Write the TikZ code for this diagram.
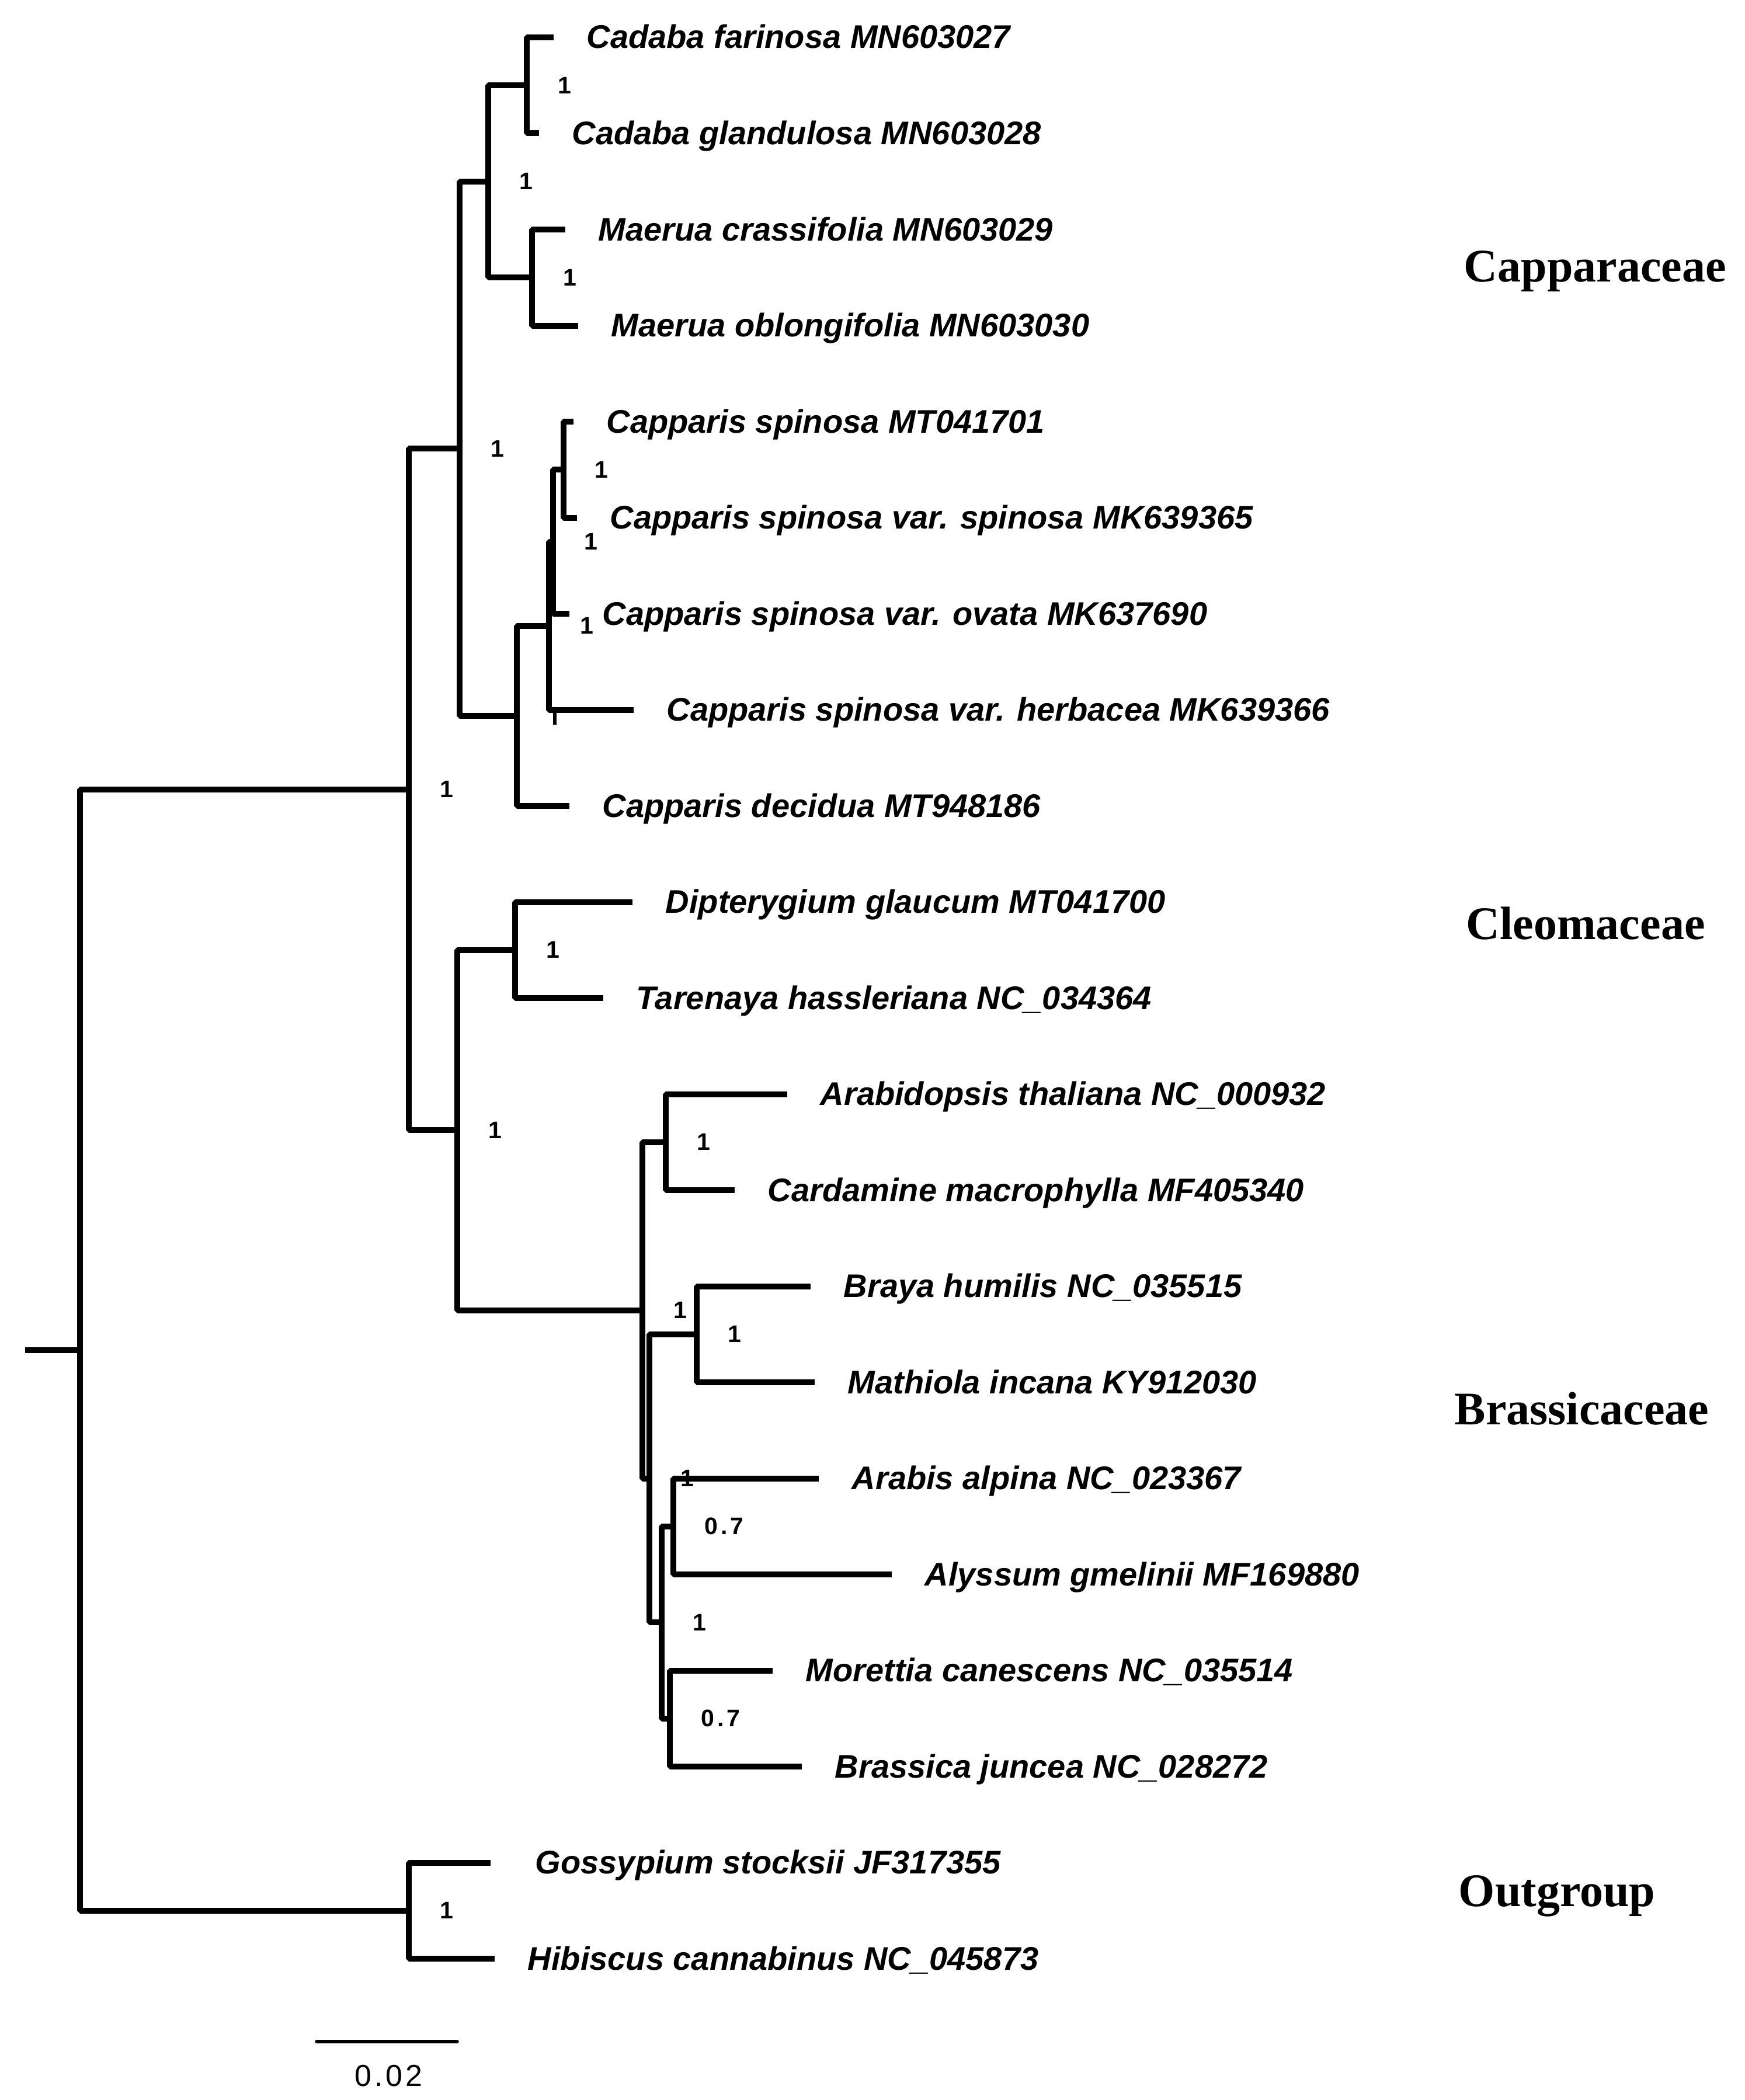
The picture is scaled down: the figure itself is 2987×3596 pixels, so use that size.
\documentclass[tikz,border=0pt]{standalone}
\usepackage{fontspec}
\setmainfont{Liberation Serif}
\newfontfamily\leaffont{Liberation Sans}
\usepackage{tikz}
\usetikzlibrary{calc}

\tikzset{
  branch/.style={line width=2.5pt, line join=bevel},
  leaf/.style={anchor=base west, inner sep=0pt, font=\leaffont\bfseries\itshape\fontsize{14}{14}\selectfont},
  supp/.style={anchor=west, inner sep=0pt, font=\leaffont\bfseries\fontsize{10.25}{10}\selectfont},
  family/.style={anchor=base west, inner sep=0pt, font=\bfseries\fontsize{20}{20}\selectfont},
}

\begin{document}
\begin{tikzpicture}[x=0.25pt, y=-0.25pt]
  \useasboundingbox (0,0) rectangle (2987,3596);

  % leaves: index / tip x / gap to text / name
  \foreach \i/\tx/\gap/\name in {
      1/948/56/{Cadaba farinosa MN603027},
      2/923/56/{Cadaba glandulosa MN603028},
      3/968/56/{Maerua crassifolia MN603029},
      4/990/56/{Maerua oblongifolia MN603030},
      5/982/56/{Capparis spinosa MT041701},
      6/988/56/{Capparis spinosa var. spinosa MK639365},
      7/975/56/{Capparis spinosa var. ovata MK637690},
      8/1085/56/{Capparis spinosa var. herbacea MK639366},
      9/975/56/{Capparis decidua MT948186},
      10/1083/56/{Dipterygium glaucum MT041700},
      11/1033/56/{Tarenaya hassleriana NC\_034364},
      12/1348/56/{Arabidopsis thaliana NC\_000932},
      13/1258/56/{Cardamine macrophylla MF405340},
      14/1388/56/{Braya humilis NC\_035515},
      15/1395/56/{Mathiola incana KY912030},
      16/1402/56/{Arabis alpina NC\_023367},
      17/1527/56/{Alyssum gmelinii MF169880},
      18/1323/56/{Morettia canescens NC\_035514},
      19/1373/56/{Brassica juncea NC\_028272},
      20/840/76/{Gossypium stocksii JF317355},
      21/847/56/{Hibiscus cannabinus NC\_045873}} {
    \coordinate (t\i) at (\tx, {64+164.5*(\i-1)});
    \node[leaf] (l\i) at ($(t\i)+(\gap,19)$) {\name};
  }

  % internal nodes
  \coordinate (cad)  at (902, 146.25);
  \coordinate (mae)  at (911, 475.25);
  \coordinate (cm)   at (836, 310.75);
  \coordinate (na)   at (965, 804.25);
  \coordinate (nb)   at (946.7, 927.6);
  \coordinate (nc)   at (940, 1071.6);
  \coordinate (nd)   at (885, 1225.8);
  \coordinate (capp) at (787, 768.3);
  \coordinate (cleo) at (882, 1626.75);
  \coordinate (ac)   at (1140, 1955.75);
  \coordinate (nh)   at (1193, 2284.75);
  \coordinate (ni)   at (1153, 2613.75);
  \coordinate (nj)   at (1147, 2942.75);
  \coordinate (ng)   at (1133, 2778.25);
  \coordinate (nf)   at (1112, 2531.5);
  \coordinate (ne)   at (1100, 2243.6);
  \coordinate (cb)   at (783, 1935.2);
  \coordinate (core) at (700, 1351.75);
  \coordinate (out)  at (700, 3271.75);
  \coordinate (root) at (137, 2311.75);
  \coordinate (stub) at (43, 2311.75);

  % Capparaceae
  \draw[branch] (t1) -| (cad) |- (t2);
  \draw[branch] (t3) -| (mae) |- (t4);
  \draw[branch] (cad) -| (cm) |- (mae);
  \draw[branch] (t5) -| (na) |- (t6);
  \draw[branch] (na) -| (nb) |- (t7);
  \draw[branch] (nb) -| (nc) |- (t8);
  \draw[branch] (nc) -| (nd) |- (t9);
  \draw[branch] (cm) -| (capp) |- (nd);
  \draw[line width=1.7pt] (950,1216) coordinate (tk) -- ++(0,25);

  % Cleomaceae + Brassicaceae
  \draw[branch] (t10) -| (cleo) |- (t11);
  \draw[branch] (t12) -| (ac) |- (t13);
  \draw[branch] (t14) -| (nh) |- (t15);
  \draw[branch] (t16) -| (ni) |- (t17);
  \draw[branch] (t18) -| (nj) |- (t19);
  \draw[branch] (ni) -| (ng) |- (nj);
  \draw[branch] (nh) -| (nf) |- (ng);
  \draw[branch] (ac) -| (ne) |- (nf);
  \draw[branch] (cleo) -| (cb) |- (ne);
  \draw[branch] (capp) -| (core) |- (cb);

  % outgroup and root
  \draw[branch] (t20) -| (out) |- (t21);
  \draw[branch] (core) -| (root) |- (out);
  \draw[branch] (stub) -- (root);

  % support values
  \foreach \n in {cad,mae,cm,na,nb,nc,capp,cleo,ac,nh,ng,nf,ne,cb,core,out}
    \node[supp] (s-\n) at ($(\n)+(53,0)$) {1};
  \foreach \n in {ni,nj}
    \node[supp, font=\leaffont\bfseries\fontsize{10.25}{10}\selectfont\addfontfeature{LetterSpace=12}] (s-\n) at ($(\n)+(53,0)$) {0.7};

  % families
  \node[family] (fam1) at (2506,482)  {Capparaceae};
  \node[family] (fam2) at (2510,1608) {Cleomaceae};
  \node[family] (fam3) at (2490,2439) {Brassicaceae};
  \node[family] (fam4) at (2497,3264) {Outgroup};

  % scale bar
  \coordinate (sb1) at (542,3496);
  \coordinate (sb2) at (783,3496);
  \draw[line width=1.4pt, line cap=round] (sb1) -- (sb2);
  \node[inner sep=0pt, font=\leaffont\fontsize{13}{13}\selectfont\addfontfeature{LetterSpace=9}] (sbl)
    at ($(sb1)!.5!(sb2)+(3,59)$) {0.02};
\end{tikzpicture}
\end{document}
